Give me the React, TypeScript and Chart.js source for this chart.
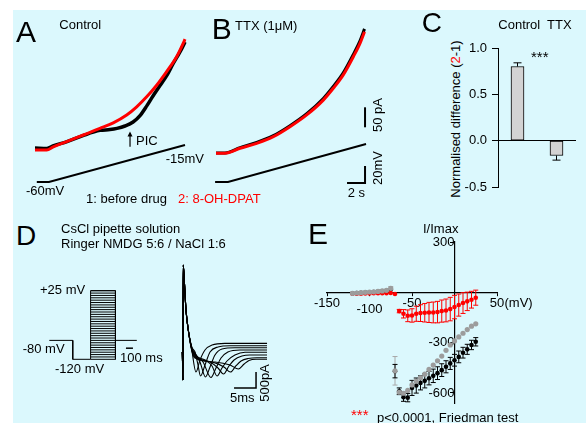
import React, { useEffect, useRef } from 'react';
import { Chart, registerables } from 'chart.js';

Chart.register(...registerables);

const FONT = "'Liberation Sans', Arial, Helvetica, sans-serif";
Chart.defaults.font.family = FONT;
Chart.defaults.font.size = 13;
Chart.defaults.color = '#000';

const RED = '#ff0000';
const BLACK = '#000000';
const GREY = '#9c9c9c';
const GREY_BAR = '#a8a8a8';
const BAR_FILL = '#d3d3d3';
const PANEL_BG = '#dbf8fd';

// ---------- Panel A: ramp currents, control (time s, current pA) ----------
const A_TIME_BEFORE = [0, 1.33, 2.0, 3.56, 5.33, 7.22, 8.33, 9.11, 10.0, 10.9, 11.67, 12.44, 13.11, 13.89, 14.67, 15.33, 16.11, 16.67];
const A_PA_BEFORE = [5, 4, 10, 21, 36, 49, 51, 54, 60, 70, 86, 111, 135, 161, 187, 215, 245, 270];
const A_TIME_DRUG = [0, 1.3, 2.03, 3.52, 5.37, 7.22, 8.7, 10.19, 11.3, 12.41, 13.52, 14.63, 15.74, 16.48, 16.67];
const A_PA_DRUG = [0, 0, 8, 21, 37.5, 54, 68, 87.5, 108, 133, 162, 196, 233, 267, 277];
const A_RAMP_TIME = [0.2, 1.55, 16.67];
const A_RAMP_MV = [-60, -60, -15];
const PIC_ARROW = { t: 10.56, fromPa: 8, toPa: 46 };

// ---------- Panel B: ramp currents, TTX ----------
const B_TIME = [0, 1.0, 2.67, 4.52, 6.37, 8.22, 10.08, 11.92, 13.03, 14.14, 15.26, 16.0, 16.5];
const B_PA_BEFORE = [1, 1, 14, 27, 44, 69, 99, 137, 167, 201, 247, 281, 311];
const B_PA_DRUG = [0, 0, 12.5, 25, 41.5, 66.5, 96, 133, 162.5, 196, 241.5, 275, 304];
const B_RAMP_TIME = [-0.1, 1.33, 16.67];
const B_RAMP_MV = [-60, -60, -15];
const SCALE_PA = 50;
const SCALE_MV = 20;
const SCALE_S = 2;
const B_BAR_AT = { t: 16.56, pa: 65, mv: -61.2 };

// ---------- Panel C: normalised difference ----------
const C_GROUPS = ['Control', 'TTX'];
const C_MEAN = [0.8, -0.16];
const C_SEM = [0.04, 0.05];
const C_TICKS = [-0.5, 0, 0.5, 1.0];

// ---------- Panel D: voltage protocol (ms, mV) ----------
const D_HOLD_MV = -80;
const D_PRE_MV = -120;
const D_STEP_MV = [-120, -115, -110, -105, -100, -95, -90, -85, -80, -75, -70, -65, -60, -55, -50, -45, -40, -35, -30, -25, -20, -15, -10, -5, 0, 5, 10, 15, 20, 25];
const D_EPOCH_MS = [0, 335, 590, 945, 1250];
const D_PROTO_BAR_MS = 100;
const D_PROTO_BAR_AT = { t: 1095, mv: -96.5 };

// ---------- Panel D: Na current traces (ms, pA) ----------
const D_TRACE_MS = [
  [-0.15, 0, 0.05, 0.3, 0.68, 1.2, 1.9, 2.95, 3.86, 5.0, 6.6, 9.5, 19.1],
  [-0.15, 0, 0.05, 0.3, 0.68, 1.2, 2.0, 2.73, 3.41, 3.98, 5.0, 6.14, 7.95, 10.7, 19.1],
  [-0.15, 0, 0.05, 0.3, 0.68, 1.2, 2.0, 2.73, 3.86, 5.11, 6.14, 7.27, 8.86, 11.8, 19.1],
  [-0.15, 0, 0.05, 0.3, 0.68, 1.2, 2.0, 2.73, 4.55, 6.36, 7.5, 8.64, 10.2, 12.95, 19.1],
  [-0.15, 0, 0.05, 0.3, 0.68, 1.2, 2.0, 2.73, 5.0, 6.6, 7.73, 8.86, 10.0, 11.8, 14.1, 19.1],
  [-0.15, 0, 0.05, 0.3, 0.68, 1.2, 2.0, 2.73, 6.14, 7.95, 9.2, 10.45, 11.6, 13.4, 15.2, 19.1],
  [-0.15, 0, 0.05, 0.3, 0.68, 1.2, 2.0, 2.73, 6.6, 9.3, 10.8, 12.0, 13.2, 14.8, 16.8, 19.1],
  [-0.15, 0, 0.05, 0.3, 0.68, 1.2, 2.0, 2.73, 7.27, 10.7, 12.6, 13.9, 15.0, 16.6, 19.1],
];
const D_TRACE_PA = [
  [-219, -1094, 2500, 2000, 1094, 469, -60, -844, -469, -156, 0, 50, 50],
  [-219, -1094, 2500, 2000, 1094, 469, -60, -219, -625, -969, -625, -219, -62, -22, -22],
  [-219, -1094, 2500, 2000, 1094, 469, -80, -250, -531, -1000, -687, -312, -125, -84, -84],
  [-219, -1094, 2500, 2000, 1094, 469, -100, -281, -531, -1016, -719, -406, -219, -156, -156],
  [-219, -1094, 2500, 2000, 1094, 469, -120, -312, -469, -656, -969, -719, -500, -312, -228, -228],
  [-219, -1094, 2500, 2000, 1094, 469, -140, -344, -531, -719, -906, -656, -469, -344, -312, -312],
  [-219, -1094, 2500, 2000, 1094, 469, -160, -375, -531, -687, -844, -656, -500, -422, -397, -397],
  [-219, -1094, 2500, 2000, 1094, 469, -180, -406, -531, -625, -750, -594, -484, -447, -447],
];
const D_SCALE_MS = 5;
const D_SCALE_PA = 500;
const D_BAR_AT = { t: 16.6, pa: -1344 };

// ---------- Panel E: I-V relation ----------
const E_MV = [-120, -115, -110, -105, -100, -95, -90, -85, -80, -75, -70, -65, -60, -55, -50, -45, -40, -35, -30, -25, -20, -15, -10, -5, 0, 5, 10, 15, 20, 25];
const E_RED = [-8, -8, -8, -7, -7, -6, -6, -5, -5, -4, -10, -112, -128, -140, -138, -128, -124, -122, -120, -120, -118, -112, -108, -100, -88, -76, -64, -54, -44, -32];
const E_RED_SEM = [0, 0, 0, 0, 0, 0, 0, 0, 0, 0, 0, 10, 25, 35, 40, 45, 50, 55, 60, 62, 64, 66, 68, 70, 70, 66, 62, 55, 50, 45];
const E_GREY = [-6, -4, -2, 0, 2, 3, 5, 8, 12, 24, -468, -596, -602, -585, -552, -530, -510, -488, -460, -434, -408, -380, -346, -314, -290, -266, -244, -222, -202, -188];
const E_GREY_SEM = [3, 3, 3, 3, 3, 3, 4, 5, 6, 10, 85, 10, 10, 0, 0, 0, 0, 0, 0, 0, 0, 0, 0, 0, 0, 0, 0, 0, 0, 0];
const E_BLACK = [-6, -5, -3, -1, 0, 2, 4, 6, 9, 18, -470, -590, -625, -628, -570, -556, -540, -528, -512, -498, -482, -464, -444, -424, -405, -385, -360, -340, -314, -295];
const E_BLACK_SEM = [0, 0, 0, 0, 0, 0, 0, 0, 0, 0, 40, 20, 25, 25, 45, 45, 42, 42, 40, 40, 38, 38, 36, 36, 35, 35, 32, 30, 28, 25];
const E_X_TICKS = [-150, -100, -50, 50];
const E_Y_TICKS = [-600, -300, 300];

// ---------- helpers ----------
const pts = (xs: number[], ys: number[]) => xs.map((x, i) => ({ x, y: ys[i] }));

const baseOptions = (extra: any) => ({
  animation: false,
  responsive: false,
  events: [],
  plugins: { legend: { display: false }, tooltip: { enabled: false } },
  ...extra,
});

const lineDs = (data: any[], color: string, width: number, yAxisID = 'y', smooth = false) => ({
  data,
  yAxisID,
  borderColor: color,
  borderWidth: width,
  pointRadius: 0,
  fill: false,
  tension: 0,
  ...(smooth ? { cubicInterpolationMode: 'monotone' } : {}),
});

type ErrSpec = { dataset: number; sem: number[]; color: string; width: number; cap: number; oneSided?: boolean };
function errorBars(specs: ErrSpec[], phase: 'before' | 'after') {
  const draw = (chart: any) => {
    const ctx = chart.ctx;
    specs.forEach((s) => {
      const meta = chart.getDatasetMeta(s.dataset);
      const yScale = meta.yScale;
      const data = chart.data.datasets[s.dataset].data;
      meta.data.forEach((el: any, i: number) => {
        const e = s.sem[i];
        if (!e) return;
        const raw = data[i];
        const v = typeof raw === 'number' ? raw : raw.y;
        const up = !s.oneSided || v >= 0;
        const down = !s.oneSided || v < 0;
        const top = yScale.getPixelForValue(up ? v + e : v);
        const bot = yScale.getPixelForValue(down ? v - e : v);
        ctx.save();
        ctx.strokeStyle = s.color;
        ctx.lineWidth = s.width;
        ctx.beginPath();
        ctx.moveTo(el.x, top);
        ctx.lineTo(el.x, bot);
        if (up) { ctx.moveTo(el.x - s.cap / 2, top); ctx.lineTo(el.x + s.cap / 2, top); }
        if (down) { ctx.moveTo(el.x - s.cap / 2, bot); ctx.lineTo(el.x + s.cap / 2, bot); }
        ctx.stroke();
        ctx.restore();
      });
    });
  };
  return phase === 'before'
    ? { id: 'errorBarsBefore', beforeDatasetsDraw: draw }
    : { id: 'errorBarsAfter', afterDatasetsDraw: draw };
}

const picArrow = {
  id: 'picArrow',
  afterDatasetsDraw(chart: any) {
    const { ctx } = chart;
    const x = chart.scales.x.getPixelForValue(PIC_ARROW.t);
    const y0 = chart.scales.y.getPixelForValue(PIC_ARROW.fromPa);
    const y1 = chart.scales.y.getPixelForValue(PIC_ARROW.toPa);
    ctx.save();
    ctx.strokeStyle = BLACK;
    ctx.fillStyle = BLACK;
    ctx.lineWidth = 1.2;
    ctx.beginPath();
    ctx.moveTo(x, y0);
    ctx.lineTo(x, y1 + 2);
    ctx.stroke();
    ctx.beginPath();
    ctx.moveTo(x, y1);
    ctx.lineTo(x - 2.5, y1 + 5);
    ctx.lineTo(x + 2.5, y1 + 5);
    ctx.closePath();
    ctx.fill();
    ctx.restore();
  },
};

// ---------- chart builders ----------
function buildA() {
  return {
    type: 'line',
    data: {
      datasets: [
        lineDs(pts(A_TIME_DRUG, A_PA_DRUG), RED, 3, 'y', true),
        lineDs(pts(A_TIME_BEFORE, A_PA_BEFORE), BLACK, 3.5, 'y', true),
        lineDs(pts(A_RAMP_TIME, A_RAMP_MV), BLACK, 2, 'yMv'),
      ],
    },
    options: baseOptions({
      layout: { padding: 0 },
      scales: {
        x: { type: 'linear', display: false, min: -0.556, max: 17.78 },
        y: { type: 'linear', display: false, min: -112.5, max: 300 },
        yMv: { type: 'linear', axis: 'y', display: false, min: -75.8, max: 124.9 },
      },
    }),
    plugins: [picArrow],
  };
}

function buildB() {
  const b = B_BAR_AT;
  return {
    type: 'line',
    data: {
      datasets: [
        lineDs(pts(B_TIME, B_PA_DRUG), RED, 3, 'y', true),
        lineDs(pts(B_TIME, B_PA_BEFORE), BLACK, 3, 'y', true),
        lineDs(pts(B_RAMP_TIME, B_RAMP_MV), BLACK, 2, 'yMv'),
        lineDs([{ x: b.t, y: b.pa }, { x: b.t, y: b.pa + SCALE_PA }], BLACK, 2),
        lineDs([{ x: b.t - SCALE_S, y: b.mv }, { x: b.t, y: b.mv }, { x: b.t, y: b.mv + SCALE_MV }], BLACK, 2, 'yMv'),
      ],
    },
    options: baseOptions({
      layout: { padding: 0 },
      scales: {
        x: { type: 'linear', display: false, min: -0.667, max: 17.667 },
        y: { type: 'linear', display: false, min: -104.25, max: 333.25 },
        yMv: { type: 'linear', axis: 'y', display: false, min: -75.4, max: 131.85 },
      },
    }),
  };
}

function buildC() {
  return {
    type: 'bar',
    data: {
      labels: C_GROUPS,
      datasets: [{
        data: C_MEAN,
        backgroundColor: BAR_FILL,
        borderColor: BLACK,
        borderWidth: 1,
        borderSkipped: false,
        barThickness: 13,
      }],
    },
    options: baseOptions({
      layout: { padding: { left: 0, right: 10, top: 13, bottom: 13 } },
      scales: {
        x: { display: false },
        y: {
          min: -0.5,
          max: 1.0,
          afterBuildTicks: (s: any) => { s.ticks = C_TICKS.map((v) => ({ value: v })); },
          afterFit: (s: any) => { s.width = 35; },
          ticks: { color: BLACK, font: { size: 13 }, padding: 5, callback: (v: any) => Number(v).toFixed(1) },
          grid: {
            drawOnChartArea: true,
            color: (c: any) => (c.tick && c.tick.value === 0 ? BLACK : 'rgba(0,0,0,0)'),
            tickColor: BLACK,
            tickLength: 6,
            lineWidth: 1,
          },
          border: { display: true, color: BLACK, width: 1 },
        },
      },
    }),
    plugins: [errorBars([{ dataset: 0, sem: C_SEM, color: BLACK, width: 1, cap: 8, oneSided: true }], 'after')],
  };
}

function buildDProtocol() {
  const [t0, tPre, tStep, tEnd, tStop] = D_EPOCH_MS;
  const top = D_STEP_MV[D_STEP_MV.length - 1];
  const bottom = D_STEP_MV[0];
  const seg = (p: number[][]) => lineDs(p.map(([x, y]) => ({ x, y })), BLACK, 1);
  return {
    type: 'line',
    data: {
      datasets: [
        seg([[t0, D_HOLD_MV], [tPre, D_HOLD_MV], [tPre, D_PRE_MV], [tStep, D_PRE_MV]]),
        seg([[tStep, bottom], [tStep, top], [tEnd, top], [tEnd, bottom]]),
        seg([[tEnd, D_HOLD_MV], [tStop, D_HOLD_MV]]),
        ...D_STEP_MV.map((v) => seg([[tStep, v], [tEnd, v]])),
        lineDs([{ x: D_PROTO_BAR_AT.t, y: D_PROTO_BAR_AT.mv }, { x: D_PROTO_BAR_AT.t + D_PROTO_BAR_MS, y: D_PROTO_BAR_AT.mv }], BLACK, 1.5),
      ],
    },
    options: baseOptions({
      layout: { padding: 0 },
      scales: {
        x: { type: 'linear', display: false, min: -132.9, max: 1438.6 },
        y: { type: 'linear', display: false, min: -142.6, max: 47.65 },
      },
    }),
  };
}

function buildDCurrents() {
  const b = D_BAR_AT;
  return {
    type: 'line',
    data: {
      datasets: [
        ...D_TRACE_MS.map((ts, k) => lineDs(pts(ts, D_TRACE_PA[k]), BLACK, 1.1, 'y', true)),
        lineDs([{ x: b.t - D_SCALE_MS, y: b.pa }, { x: b.t, y: b.pa }, { x: b.t, y: b.pa + D_SCALE_PA }], BLACK, 1.5),
      ],
    },
    options: baseOptions({
      layout: { padding: 0 },
      scales: {
        x: { type: 'linear', display: false, min: -1.818, max: 20.909 },
        y: { type: 'linear', display: false, min: -1718.75, max: 2812.5 },
      },
    }),
  };
}

function buildE() {
  const ePts = (ys: number[]) => E_MV.map((x, i) => ({ x, y: ys[i] }));
  const dot = (ys: number[], color: string, r: number) => ({
    data: ePts(ys),
    backgroundColor: color,
    pointBackgroundColor: color,
    pointBorderWidth: 0,
    borderWidth: 0,
    pointRadius: r,
    showLine: false,
  });
  return {
    type: 'scatter',
    data: {
      datasets: [
        dot(E_GREY, GREY, 2.6),
        dot(E_RED, RED, 2.3),
        dot(E_BLACK, BLACK, 2.3),
      ],
    },
    options: baseOptions({
      layout: { padding: { left: 27, right: 89, top: 17, bottom: 20 } },
      scales: {
        x: {
          type: 'linear',
          min: -150,
          max: 50,
          position: { y: 0 },
          afterBuildTicks: (s: any) => { s.ticks = E_X_TICKS.map((v) => ({ value: v })); },
          ticks: {
            color: BLACK,
            padding: 0,
            autoSkip: false,
            maxRotation: 0,
            font: (c: any) => ({ size: 13, lineHeight: c.tick && c.tick.value === -100 ? 2.1 : 1.2 }),
            callback: (v: any) => String(v),
          },
          grid: { drawOnChartArea: false, drawTicks: true, tickLength: 3, color: BLACK, lineWidth: 1 },
          border: { display: true, color: BLACK, width: 1.2 },
        },
        y: {
          type: 'linear',
          min: -660,
          max: 300,
          position: { x: 0 },
          afterBuildTicks: (s: any) => { s.ticks = E_Y_TICKS.map((v) => ({ value: v })); },
          ticks: { color: BLACK, padding: 0, font: { size: 13 }, callback: (v: any) => String(v) },
          grid: { drawOnChartArea: false, drawTicks: true, tickLength: 4, color: BLACK, lineWidth: 1 },
          border: { display: true, color: BLACK, width: 1.2 },
        },
      },
    }),
    plugins: [errorBars([
      { dataset: 0, sem: E_GREY_SEM, color: GREY_BAR, width: 1, cap: 5 },
      { dataset: 1, sem: E_RED_SEM, color: RED, width: 1, cap: 5 },
      { dataset: 2, sem: E_BLACK_SEM, color: BLACK, width: 1, cap: 5 },
    ], 'before')],
  };
}

// ---------- components ----------
function ChartCanvas({ left, top, width, height, build }: { left: number; top: number; width: number; height: number; build: () => any }) {
  const ref = useRef<HTMLCanvasElement | null>(null);
  useEffect(() => {
    if (!ref.current) return;
    const chart = new Chart(ref.current, build());
    return () => chart.destroy();
  }, []);
  return <canvas ref={ref} width={width} height={height} style={{ position: 'absolute', left, top, width, height }} />;
}

function Txt({ x, y, size = 13, color = BLACK, children }: any) {
  return (
    <div style={{ position: 'absolute', left: x, top: y - 0.49 * size, fontSize: size, lineHeight: `${size}px`, whiteSpace: 'nowrap', color }}>
      {children}
    </div>
  );
}

function Rot({ x, y, size = 13, color = BLACK, children }: any) {
  return (
    <div style={{ position: 'absolute', left: x, top: y, transform: 'translate(-50%, -50%) rotate(-90deg)', fontSize: size, lineHeight: `${size}px`, whiteSpace: 'nowrap', color }}>
      {children}
    </div>
  );
}

export default function App() {
  useEffect(() => { document.body.style.margin = '0'; }, []);
  return (
    <div style={{ position: 'absolute', left: 0, top: 0, width: 586, height: 423, background: '#ffffff', overflow: 'hidden', fontFamily: FONT }}>
      <div style={{ position: 'absolute', left: 13, top: 10, width: 573, height: 413, background: PANEL_BG }} />

      <ChartCanvas left={30} top={30} width={165} height={165} build={buildA} />
      <ChartCanvas left={210} top={20} width={165} height={175} build={buildB} />
      <ChartCanvas left={463} top={35} width={123} height={165} build={buildC} />
      <ChartCanvas left={40} top={280} width={110} height={90} build={buildDProtocol} />
      <ChartCanvas left={175} top={255} width={100} height={145} build={buildDCurrents} />
      <ChartCanvas left={300} top={225} width={286} height={198} build={buildE} />

      {/* Panel A */}
      <Txt x={16} y={31.7} size={30}>A</Txt>
      <Txt x={59.3} y={24.7}>Control</Txt>
      <Txt x={136} y={140}>PIC</Txt>
      <Txt x={165.7} y={158.8}>-15mV</Txt>
      <Txt x={26} y={190.5}>-60mV</Txt>
      <Txt x={86} y={198.5}>1: before drug</Txt>
      <Txt x={178} y={198.5} color={RED}>2: 8-OH-DPAT</Txt>

      {/* Panel B */}
      <Txt x={211.7} y={29} size={30}>B</Txt>
      <Txt x={235} y={25}>TTX (1μM)</Txt>
      <Rot x={376.7} y={115}>50 pA</Rot>
      <Rot x={376.7} y={168}>20mV</Rot>
      <Txt x={347.7} y={192.7}>2 s</Txt>

      {/* Panel C */}
      <Txt x={421.7} y={22.5} size={28}>C</Txt>
      <Txt x={498.3} y={24}>Control</Txt>
      <Txt x={547} y={24}>TTX</Txt>
      <Txt x={531} y={56.5} size={15}>***</Txt>
      <Rot x={455} y={118.5}>Normalised difference (<span style={{ color: RED }}>2</span>-1)</Rot>

      {/* Panel D */}
      <Txt x={16} y={236} size={28}>D</Txt>
      <Txt x={61} y={228}>CsCl pipette solution</Txt>
      <Txt x={61} y={243}>Ringer NMDG 5:6 / NaCl 1:6</Txt>
      <Txt x={40} y={289.5}>+25 mV</Txt>
      <Txt x={22.7} y={348}>-80 mV</Txt>
      <Txt x={55} y={368}>-120 mV</Txt>
      <Txt x={120} y={357}>100 ms</Txt>
      <Txt x={230} y={397}>5ms</Txt>
      <Rot x={263.8} y={382.5}>500pA</Rot>

      {/* Panel E */}
      <Txt x={308} y={234} size={30}>E</Txt>
      <Txt x={423} y={228}>I/Imax</Txt>
      <Txt x={504.5} y={302}>(mV)</Txt>
      <Txt x={351} y={414} size={15} color={RED}>***</Txt>
      <Txt x={377} y={417.5}>p&lt;0.0001, Friedman test</Txt>
    </div>
  );
}
